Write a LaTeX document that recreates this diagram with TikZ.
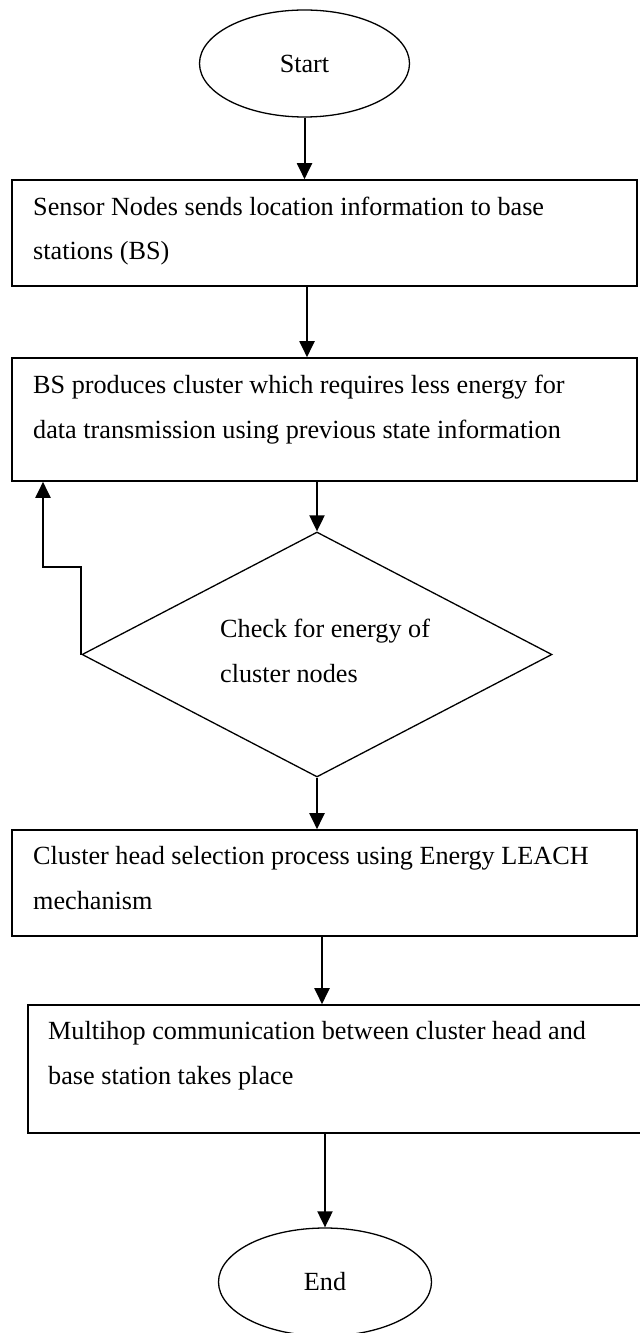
\documentclass[tikz,border=0pt]{standalone}
\usepackage{fontspec}
\setmainfont{Liberation Serif}
\usetikzlibrary{shapes.geometric,arrows.meta}
\begin{document}
\begin{tikzpicture}[x=1bp,y=-1bp,
  txt/.style={anchor=base west,inner sep=0pt,align=left,font=\fontsize{26.3pt}{44.2pt}\selectfont},
  term/.style={draw,ellipse,line width=1.3bp,inner sep=0pt,font=\fontsize{26.3pt}{30pt}\selectfont},
  stepbox/.style={draw,rectangle,line width=1.6bp,inner sep=0pt},
  decision/.style={draw,diamond,line width=1.3bp,inner sep=0pt,minimum width=470bp,minimum height=245bp},
  arr/.style={line width=2bp,-{Triangle[width=15bp,length=16bp]}},
]
\useasboundingbox (0,0) rectangle (640,1333);
\clip (0,0) rectangle (640,1333);

% terminals
\node[term,minimum width=210bp,minimum height=107bp] (s) at (304.5,63.5) {Start};
\node[term,minimum width=213bp,minimum height=108bp] (e) at (325,1282) {End};

% process boxes
\node[stepbox,minimum width=625bp,minimum height=106bp] (b1) at (324.5,233) {};
\node[stepbox,minimum width=625bp,minimum height=123bp] (b2) at (324.5,419.5) {};
\node[decision] (d) at (317,654.5) {};
\node[stepbox,minimum width=625bp,minimum height=106bp] (b3) at (324.5,883) {};
\node[stepbox,minimum width=616bp,minimum height=128bp] (b4) at (336,1069) {};

% texts (anchor is the baseline of the last line)
\node[txt] (t1) at (33,260) {Sensor Nodes sends location information to base\\stations (BS)};
\node[txt] (t2) at (33,438) {BS produces cluster which requires less energy for\\data transmission using previous state information};
\node[txt] (td) at (220,682) {Check for energy of\\cluster nodes};
\node[txt] (t3) at (33,909) {Cluster head selection process using Energy LEACH\\mechanism};
\node[txt] (t4) at (48,1084) {Multihop communication between cluster head and\\base station takes place};

% connectors
\coordinate (fb) at (43,567);
\draw[arr] (s.south) -- (s.south |- b1.north);
\draw[arr] ([xshift=-17.5bp]b1.south) -- ([xshift=-17.5bp]b1.south |- b2.north);
\draw[arr] (b2.south -| d.north) -- (d.north);
\draw[arr] (d.south) -- (d.south |- b3.north);
\draw[arr] ([xshift=-2.5bp]b3.south) -- ([xshift=-2.5bp]b3.south |- b4.north);
\draw[arr] (b4.south -| e.north) -- (e.north);
\draw[arr] (d.west) |- (fb) -- (fb |- b2.south);
\end{tikzpicture}
\end{document}
